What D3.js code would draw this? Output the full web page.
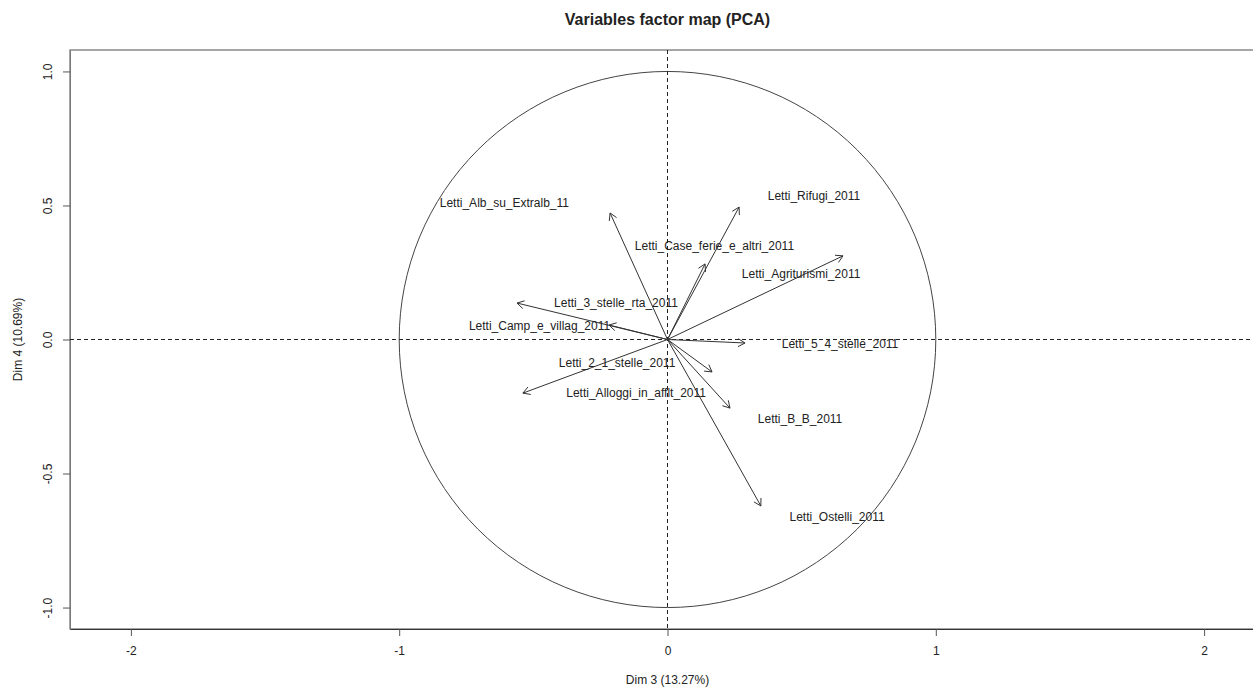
<!DOCTYPE html>
<html>
<head>
<meta charset="utf-8">
<script src="https://cdn.jsdelivr.net/npm/d3@7"></script>
<style>
  html, body { margin: 0; padding: 0; background: #fff; }
  svg { display: block; }
  text { font-family: "Liberation Sans", Arial, sans-serif; fill: #222; }
</style>
</head>
<body>
<svg id="chart" width="1253" height="688"></svg>
<script>
// Variable names (correlation circle of a PCA, dimensions 3 and 4)
const variables = [
  "Letti_Alb_su_Extralb_11",
  "Letti_Rifugi_2011",
  "Letti_Case_ferie_e_altri_2011",
  "Letti_Agriturismi_2011",
  "Letti_5_4_stelle_2011",
  "Letti_3_stelle_rta_2011",
  "Letti_Camp_e_villag_2011",
  "Letti_2_1_stelle_2011",
  "Letti_Alloggi_in_afflt_2011",
  "Letti_B_B_2011",
  "Letti_Ostelli_2011"
];
// Coordinates of each variable on Dim 3 and Dim 4
const dim3 = [-0.214, 0.267, 0.140, 0.654, 0.289, -0.561, -0.218, 0.166, -0.539, 0.233, 0.348];
const dim4 = [ 0.472, 0.494, 0.282, 0.312, -0.013, 0.136, 0.054, -0.121, -0.200, -0.256, -0.621];
// Where each variable's label sits (same units)
const labelDim3 = [-0.608, 0.546, 0.175, 0.498, 0.643, -0.192, -0.477, -0.188, -0.117, 0.494, 0.632];
const labelDim4 = [ 0.509, 0.535, 0.349, 0.244, -0.017, 0.136, 0.050, -0.088, -0.200, -0.297, -0.662];

const xTicks = [-2, -1, 0, 1, 2];
const xTickLabels = ["-2", "-1", "0", "1", "2"];
const yTicks = [-1, -0.5, 0, 0.5, 1];
const yTickLabels = ["-1.0", "-0.5", "0.0", "0.5", "1.0"];

const title = "Variables factor map (PCA)";
const xTitle = "Dim 3 (13.27%)";
const yTitle = "Dim 4 (10.69%)";

const svg = d3.select("#chart");
const plot = { left: 70, top: 50, right: 1265, bottom: 629 };

const x = d3.scaleLinear().domain([-2.227, 2.227]).range([plot.left, plot.right]);
const y = d3.scaleLinear().domain([-1.08, 1.08]).range([plot.bottom, plot.top]);

const ink = "#333";
const font = "'Liberation Sans', Arial, sans-serif";

// Title
svg.append("text")
  .attr("x", x(0)).attr("y", 19)
  .attr("text-anchor", "middle").attr("dominant-baseline", "central")
  .style("font-size", "16px").style("font-weight", "bold")
  .text(title);

// Plot frame
svg.append("rect")
  .attr("x", plot.left).attr("y", plot.top)
  .attr("width", plot.right - plot.left).attr("height", plot.bottom - plot.top)
  .attr("fill", "none").attr("stroke", "#777").attr("stroke-width", 1.3);

// Bottom axis
const xAxis = d3.axisBottom(x).tickValues(xTicks).tickSizeInner(7).tickSizeOuter(0)
  .tickPadding(10).tickFormat((d, i) => xTickLabels[i]);
const gx = svg.append("g").attr("transform", `translate(0,${plot.bottom})`).call(xAxis);
gx.select(".domain").attr("stroke", ink);
gx.selectAll(".tick line").attr("stroke", "#555");
gx.selectAll(".tick text").style("font-size", "12px").attr("fill", "#222")
  .style("font-family", font);

// Left axis with rotated tick labels
const yAxis = d3.axisLeft(y).tickValues(yTicks).tickSizeInner(7).tickSizeOuter(0)
  .tickFormat((d, i) => yTickLabels[i]);
const gy = svg.append("g").attr("transform", `translate(${plot.left},0)`).call(yAxis);
gy.select(".domain").attr("stroke", "#777");
gy.selectAll(".tick line").attr("stroke", "#555");
gy.selectAll(".tick text")
  .style("font-size", "12px").attr("fill", "#222")
  .style("font-family", font)
  .attr("x", null).attr("dy", null)
  .attr("text-anchor", "middle").attr("dominant-baseline", "central")
  .attr("transform", "translate(-22,0) rotate(-90)");

// Axis titles
svg.append("text")
  .attr("x", x(0)).attr("y", 680)
  .attr("text-anchor", "middle").attr("dominant-baseline", "central")
  .style("font-size", "12px").text(xTitle);
svg.append("text")
  .attr("transform", `translate(18,${y(0)}) rotate(-90)`)
  .attr("text-anchor", "middle").attr("dominant-baseline", "central")
  .style("font-size", "12px").text(yTitle);

// Unit circle
svg.append("ellipse")
  .attr("cx", x(0)).attr("cy", y(0))
  .attr("rx", x(1) - x(0)).attr("ry", y(0) - y(1))
  .attr("fill", "none").attr("stroke", "#444").attr("stroke-width", 1);

// Dashed reference lines through the origin
svg.append("line")
  .attr("x1", plot.left).attr("x2", plot.right)
  .attr("y1", y(0)).attr("y2", y(0))
  .attr("stroke", "#222").attr("stroke-width", 1).attr("stroke-dasharray", "4,3");
svg.append("line")
  .attr("x1", x(0)).attr("x2", x(0))
  .attr("y1", plot.top).attr("y2", plot.bottom)
  .attr("stroke", "#222").attr("stroke-width", 1).attr("stroke-dasharray", "4,3");

// Variable arrows with open heads
const head = 8, spread = Math.PI / 6;
const arrows = svg.append("g").attr("stroke", ink).attr("stroke-width", 1).attr("fill", "none");
variables.forEach((name, i) => {
  const x0 = x(0), y0 = y(0), x1 = x(dim3[i]), y1 = y(dim4[i]);
  const a = Math.atan2(y1 - y0, x1 - x0);
  arrows.append("line").attr("x1", x0).attr("y1", y0).attr("x2", x1).attr("y2", y1);
  const p = d3.path();
  p.moveTo(x1 - head * Math.cos(a - spread), y1 - head * Math.sin(a - spread));
  p.lineTo(x1, y1);
  p.lineTo(x1 - head * Math.cos(a + spread), y1 - head * Math.sin(a + spread));
  arrows.append("path").attr("d", p.toString());
});

// Variable labels
svg.append("g").selectAll("text")
  .data(variables)
  .join("text")
  .attr("x", (d, i) => x(labelDim3[i]))
  .attr("y", (d, i) => y(labelDim4[i]))
  .attr("text-anchor", "middle").attr("dominant-baseline", "central")
  .style("font-size", "12px")
  .text(d => d);
</script>
</body>
</html>
